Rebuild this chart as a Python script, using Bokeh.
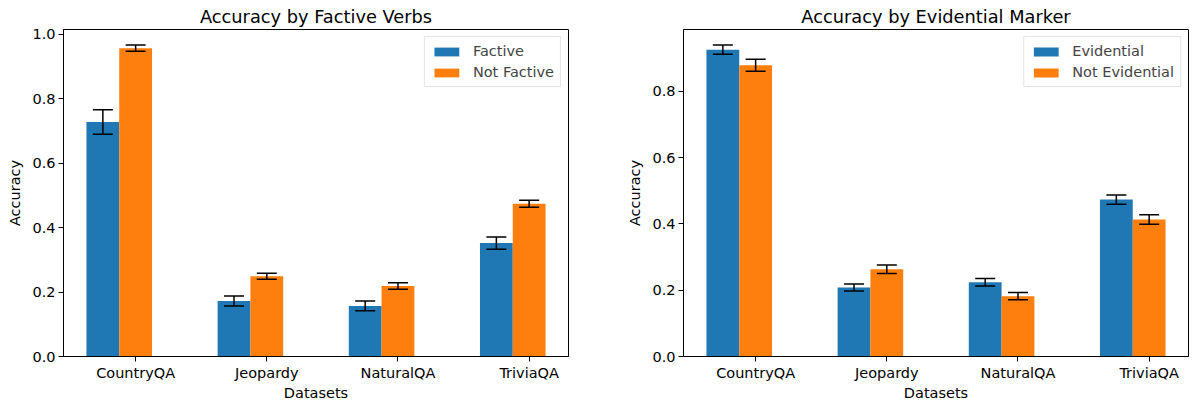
from bokeh.plotting import figure
from bokeh.layouts import row
from bokeh.models import (ColumnDataSource, Whisker, TeeHead, FixedTicker, Range1d,
                          Legend, LegendItem, PrintfTickFormatter)
from bokeh.embed import file_html
from bokeh.resources import INLINE

# ---- data ----
datasets = ["CountryQA", "Jeopardy", "NaturalQA", "TriviaQA"]

factive = [0.728, 0.172, 0.157, 0.352]
factive_err = [0.038, 0.0155, 0.015, 0.019]
not_factive = [0.957, 0.249, 0.219, 0.474]
not_factive_err = [0.0095, 0.0095, 0.010, 0.011]

evidential = [0.925, 0.208, 0.224, 0.473]
evidential_err = [0.014, 0.0105, 0.0115, 0.014]
not_evidential = [0.878, 0.263, 0.182, 0.413]
not_evidential_err = [0.018, 0.013, 0.011, 0.0145]

FONT = "DejaVu Sans"
BLUE = "#1f77b4"
ORANGE = "#ff7f0e"
BAR_W = 0.25
FS = "14.5px"


def make(title, names, a, a_err, b, b_err, labels, width, bl, br, yticks):
    n = len(names)
    xs = list(range(n))
    ymax = max(max(v + e for v, e in zip(a, a_err)), max(v + e for v, e in zip(b, b_err))) * 1.05
    p = figure(width=width, height=403, output_backend="svg", toolbar_location=None,
               title=title, x_range=Range1d(-0.55, n - 1 + 0.3), y_range=Range1d(0, ymax),
               min_border_left=bl, min_border_right=br, min_border_top=29, min_border_bottom=40)
    p.title.text_font = FONT
    p.title.text_font_size = "17.8px"
    p.title.text_font_style = "normal"
    p.title.text_color = "black"
    p.title.align = "center"
    p.title.standoff = 6
    p.title.offset = 0

    sa = ColumnDataSource(dict(x=[i - BAR_W for i in xs], top=a,
                               upper=[v + e for v, e in zip(a, a_err)],
                               lower=[v - e for v, e in zip(a, a_err)]))
    sb = ColumnDataSource(dict(x=[i for i in xs], top=b,
                               upper=[v + e for v, e in zip(b, b_err)],
                               lower=[v - e for v, e in zip(b, b_err)]))
    ra = p.vbar(x="x", top="top", width=BAR_W, source=sa, fill_color=BLUE, line_color=None)
    rb = p.vbar(x="x", top="top", width=BAR_W, source=sb, fill_color=ORANGE, line_color=None)

    for s in (sa, sb):
        w = Whisker(base="x", upper="upper", lower="lower", source=s, level="overlay",
                    line_color="black", line_width=1.5,
                    upper_head=TeeHead(size=20, line_color="black", line_width=1.5),
                    lower_head=TeeHead(size=20, line_color="black", line_width=1.5))
        p.add_layout(w)

    p.xgrid.visible = False
    p.ygrid.visible = False
    p.outline_line_color = "black"
    p.outline_line_width = 1
    p.outline_line_alpha = 1

    for ax in (p.xaxis[0], p.yaxis[0]):
        ax.axis_line_color = "black"
        ax.axis_line_width = 1
        ax.major_tick_in = 0
        ax.major_tick_out = 5
        ax.major_tick_line_color = "black"
        ax.minor_tick_in = 0
        ax.minor_tick_out = 0
        ax.major_label_text_font = FONT
        ax.major_label_text_font_size = FS
        ax.major_label_text_color = "black"
        ax.axis_label_text_font = FONT
        ax.axis_label_text_font_size = FS
        ax.axis_label_text_font_style = "normal"
        ax.axis_label_text_color = "black"

    p.xaxis.ticker = FixedTicker(ticks=xs)
    p.xaxis.major_label_overrides = {i: nm for i, nm in zip(xs, names)}
    p.xaxis.axis_label = "Datasets"
    p.xaxis.major_label_standoff = 3
    p.xaxis.axis_label_standoff = 1

    p.yaxis.ticker = FixedTicker(ticks=yticks)
    p.yaxis.formatter = PrintfTickFormatter(format="%.1f")
    p.yaxis.axis_label = "Accuracy"
    p.yaxis.major_label_standoff = 3
    p.yaxis.axis_label_standoff = 6

    legend = Legend(items=[LegendItem(label=labels[0], renderers=[ra]),
                           LegendItem(label=labels[1], renderers=[rb])],
                    location="top_right", margin=7, padding=6, spacing=5,
                    glyph_width=31, glyph_height=11, label_standoff=11,
                    label_text_font=FONT, label_text_font_size=FS,
                    border_line_color="#cccccc", border_line_width=1,
                    background_fill_alpha=0.8)
    p.add_layout(legend)
    return p


p1 = make("Accuracy by Factive Verbs", datasets, factive, factive_err, not_factive,
          not_factive_err, ["Factive", "Not Factive"], 608, 63, 40,
          [0.0, 0.2, 0.4, 0.6, 0.8, 1.0])
p2 = make("Accuracy by Evidential Marker", datasets, evidential, evidential_err,
          not_evidential, not_evidential_err, ["Evidential", "Not Evidential"], 584, 75, 4,
          [0.0, 0.2, 0.4, 0.6, 0.8])

layout = row(p1, p2)
open("out.html", "w").write(file_html(layout, INLINE))
